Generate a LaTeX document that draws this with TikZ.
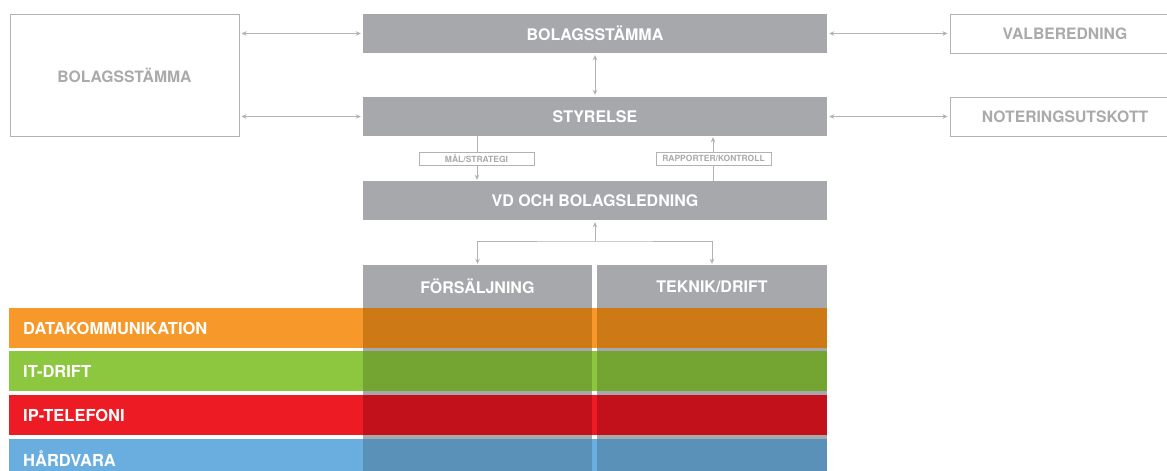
\documentclass[tikz,border=0pt]{standalone}
\usepackage{fontspec}
\setmainfont{TeX Gyre Heros}
\usetikzlibrary{arrows.meta}
\definecolor{gbox}{HTML}{A7A8AC}
\definecolor{gline}{HTML}{B2B2B5}
\definecolor{gtext}{HTML}{AAAAAD}
\definecolor{orL}{HTML}{F7992A}
\definecolor{orD}{HTML}{CD7A16}
\definecolor{grL}{HTML}{8DC63F}
\definecolor{grD}{HTML}{74A533}
\definecolor{rdL}{HTML}{ED1C24}
\definecolor{rdD}{HTML}{C2111B}
\definecolor{blL}{HTML}{6AAEDF}
\definecolor{blD}{HTML}{5A91B8}
\tikzset{
  x=1pt, y=-1pt,
  greybox/.style={fill=gbox, draw=none, text=white, inner sep=0pt,
    font=\fontsize{16}{18}\selectfont\bfseries},
  outbox/.style={fill=white, draw=gline, line width=1pt, text=gtext, inner sep=0pt,
    font=\fontsize{15.7}{18}\selectfont\bfseries},
  tagbox/.style={fill=white, draw=gline, line width=0.8pt, text=gtext, inner sep=0pt,
    minimum width=115pt, minimum height=13pt,
    font=\fontsize{8.5}{10}\selectfont\bfseries},
  rowtext/.style={text=white, anchor=west, inner sep=0pt,
    font=\fontsize{16.5}{19}\selectfont\bfseries},
  conn/.style={draw=gline, line width=0.9pt},
  tip/.tip={Stealth[length=5pt,width=4.5pt]},
}
\begin{document}
\begin{tikzpicture}
\useasboundingbox (0,0) rectangle (1167,471);
\clip (0,0) rectangle (1167,471);
\fill[white] (0,0) rectangle (1167,471);

% top boxes
\node[greybox, minimum width=464pt, minimum height=39pt] (bs) at (595,33.5) {BOLAGSSTÄMMA};
\node[greybox, minimum width=464pt, minimum height=39pt] (sty) at (595,116.5) {STYRELSE};
\node[greybox, minimum width=464pt, minimum height=39pt] (vd) at (595,200.5) {VD OCH BOLAGSLEDNING};
\node[outbox, minimum width=229pt, minimum height=122pt] (lb) at (124.5,75) {BOLAGSSTÄMMA};
\node[outbox, minimum width=230pt, minimum height=39pt] (val) at (1065,33.5) {VALBEREDNING};
\node[outbox, minimum width=230pt, minimum height=39pt] (not) at (1065,116.5) {NOTERINGSUTSKOTT};

% horizontal connectors
\draw[conn, tip-tip, shorten <=2pt, shorten >=2pt] (lb.east |- bs.west) -- (bs.west);
\draw[conn, tip-tip, shorten <=2pt, shorten >=2pt] (lb.east |- sty.west) -- (sty.west);
\draw[conn, tip-tip, shorten <=2pt, shorten >=2pt] (bs.east) -- (val.west);
\draw[conn, tip-tip, shorten <=2pt, shorten >=2pt] (sty.east) -- (not.west);
\draw[conn, tip-tip, shorten <=2pt, shorten >=2pt] (bs.south) -- (sty.north);

% styrelse <-> vd
\coordinate (xl) at (477,0);
\coordinate (xr) at (713,0);
\draw[conn, -tip, shorten >=1pt] (sty.south -| xl) -- (vd.north -| xl);
\node[tagbox] (mal) at (476.5,158.5) {MÅL/STRATEGI};
\draw[conn, -tip, shorten >=1pt] (vd.north -| xr) -- (sty.south -| xr);
\node[tagbox] (rap) at (713.5,158.5) {RAPPORTER/KONTROLL};

% columns
\fill[gbox] (363,308) rectangle (592,471);
\fill[gbox] (597,308) rectangle (827,471);
\node[greybox, minimum width=229pt, minimum height=43pt] (fs) at (477.5,286.5) {FÖRSÄLJNING};
\node[greybox, minimum width=230pt, minimum height=43pt] (te) at (712,286.5) {TEKNIK/DRIFT};

% fork
\coordinate (fk) at (595,241);
\draw[conn, -tip, shorten >=2pt] (fk) -- (vd.south);
\draw[conn, tip-tip, shorten <=1pt, shorten >=1pt] (fs.north) |- (fk) -| (te.north);

% rows
\fill[orL] (9,308) rectangle (827,347.5);
\fill[orD] (363,308) rectangle (592,347.5);
\fill[orD] (597,308) rectangle (827,347.5);
\node[rowtext] (dk) at (23,328) {DATAKOMMUNIKATION};

\fill[grL] (9,351) rectangle (827,390.5);
\fill[grD] (363,351) rectangle (592,390.5);
\fill[grD] (597,351) rectangle (827,390.5);
\node[rowtext] (itd) at (23,371) {IT-DRIFT};

\fill[rdL] (9,395) rectangle (827,435);
\fill[rdD] (363,395) rectangle (592,435);
\fill[rdD] (597,395) rectangle (827,435);
\node[rowtext] (ipt) at (23,415) {IP-TELEFONI};

\fill[blL] (9,439) rectangle (827,480);
\fill[blD] (363,439) rectangle (592,480);
\fill[blD] (597,439) rectangle (827,480);
\node[rowtext] (hw) at (23,459) {HÅRDVARA};
\end{tikzpicture}
\end{document}
